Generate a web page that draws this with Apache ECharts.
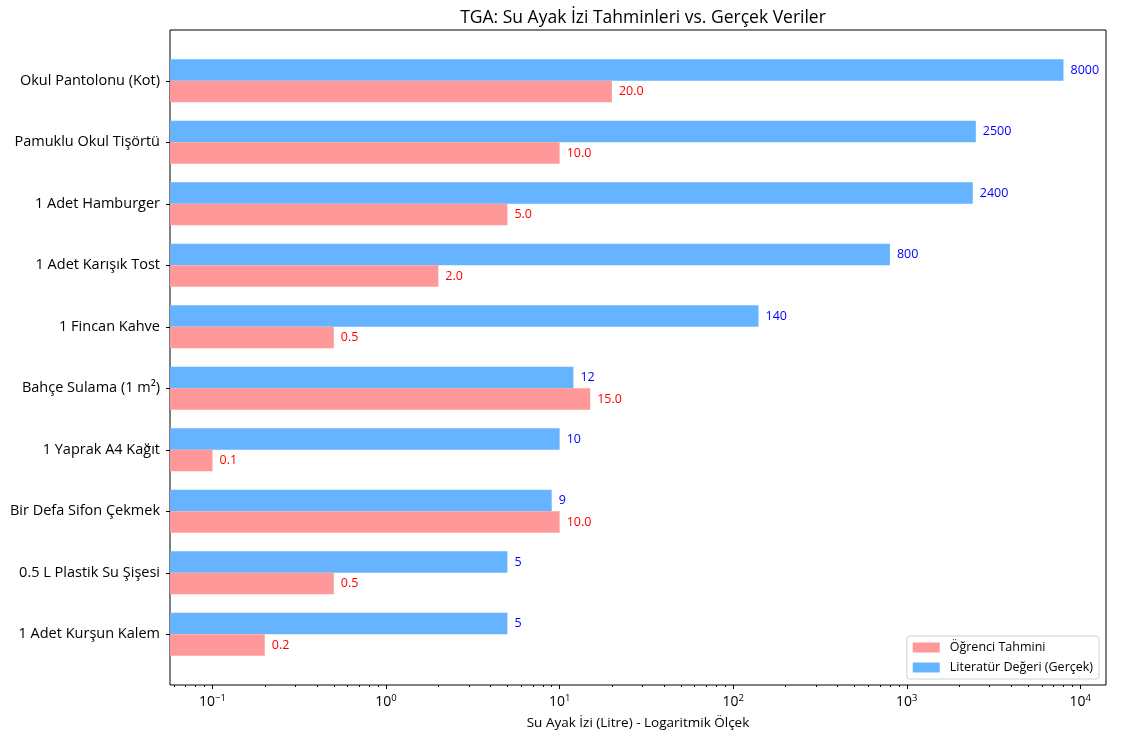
<!DOCTYPE html>
<html>
<head>
<meta charset="utf-8">
<script src="https://cdn.jsdelivr.net/npm/echarts@6/dist/echarts.min.js"></script>
<style>html,body{margin:0;padding:0;background:#fff;}#c{width:1125px;height:738px;}</style>
</head>
<body>
<div id="c"></div>
<script>
// Top-to-bottom as shown in the chart
const categories = ['Okul Pantolonu (Kot)', 'Pamuklu Okul Tişörtü', '1 Adet Hamburger', '1 Adet Karışık Tost', '1 Fincan Kahve', 'Bahçe Sulama (1 m²)', '1 Yaprak A4 Kağıt', 'Bir Defa Sifon Çekmek', '0.5 L Plastik Su Şişesi', '1 Adet Kurşun Kalem'];
const studentValues = [20.0, 10.0, 5.0, 2.0, 0.5, 15.0, 0.1, 10.0, 0.5, 0.2];
const literatureValues = [8000, 2500, 2400, 800, 140, 12, 10, 9, 5, 5];
const majorTicks = [0.1, 1, 10, 100, 1000, 10000];
const minorTicks = [0.06, 0.07, 0.08, 0.09, 0.2, 0.3, 0.4, 0.5, 0.6, 0.7, 0.8, 0.9, 2, 3, 4, 5, 6, 7, 8, 9, 20, 30, 40, 50, 60, 70, 80, 90, 200, 300, 400, 500, 600, 700, 800, 900, 2000, 3000, 4000, 5000, 6000, 7000, 8000, 9000];
const seriesNames = ['Öğrenci Tahmini', 'Literatür Değeri (Gerçek)'];

const FONT = 'Open Sans';
const xMin = Math.pow(10, -1.245);
const xMax = Math.pow(10, 4.148);
const L = 170, R = 19;

const chart = echarts.init(document.getElementById('c'));
chart.setOption({
  animation: false,
  textStyle: { fontFamily: FONT },
  title: {
    text: 'TGA: Su Ayak İzi Tahminleri vs. Gerçek Veriler',
    left: 638, top: 4, textAlign: 'center',
    textStyle: { fontFamily: FONT, fontSize: 17.5, fontWeight: 'normal', color: '#000' }
  },
  legend: {
    orient: 'vertical',
    right: 26, bottom: 59,
    data: seriesNames,
    icon: 'rect',
    itemWidth: 27, itemHeight: 10,
    itemGap: 7,
    padding: [5, 6, 5, 6],
    backgroundColor: '#fff',
    borderColor: '#d0d0d0',
    borderWidth: 1,
    borderRadius: 3,
    textStyle: { fontFamily: FONT, fontSize: 12.5, color: '#000', padding: [0, 0, 0, 5] }
  },
  grid: [
    { left: L, right: R, top: 50, bottom: 73, containLabel: false },
    { left: L, right: R, top: 30, bottom: 53, show: true, borderColor: '#000', borderWidth: 1, backgroundColor: 'transparent', z: 0 }
  ],
  xAxis: [
    { type: 'log', gridIndex: 0, min: xMin, max: xMax, startValue: xMin, show: false },
    {
      type: 'log', gridIndex: 1, min: xMin, max: xMax,
      axisLine: { show: false },
      splitLine: { show: false },
      axisTick: { show: true, customValues: majorTicks, length: 4, lineStyle: { color: '#000' } },
      axisLabel: {
        customValues: majorTicks, margin: 8,
        formatter: function (v) {
          const e = Math.round(Math.log10(v));
          return '{b|10}{s|' + (e < 0 ? '−' + (-e) : e) + '}';
        },
        rich: {
          b: { fontFamily: FONT, fontSize: 14, color: '#000' },
          s: { fontFamily: FONT, fontSize: 9.5, color: '#000', verticalAlign: 'top', padding: [0, 0, 8, 0] }
        }
      },
      name: 'Su Ayak İzi (Litre) - Logaritmik Ölçek',
      nameLocation: 'middle', nameGap: 31,
      nameTextStyle: { fontFamily: FONT, fontSize: 13.5, color: '#000' }
    },
    {
      type: 'log', gridIndex: 1, min: xMin, max: xMax, position: 'bottom',
      axisLine: { show: false }, splitLine: { show: false },
      axisTick: { show: true, customValues: minorTicks, length: 2, lineStyle: { color: '#000' } },
      axisLabel: { show: false }
    }
  ],
  yAxis: [
    {
      type: 'category', gridIndex: 0, data: categories, inverse: true,
      axisLine: { show: false },
      axisTick: { show: true, alignWithLabel: true, length: 4, lineStyle: { color: '#000' } },
      axisLabel: { fontFamily: FONT, fontSize: 14.5, color: '#000', margin: 10 }
    },
    { type: 'value', gridIndex: 1, show: false }
  ],
  series: [
    {
      name: seriesNames[1], type: 'bar', xAxisIndex: 0, yAxisIndex: 0,
      data: literatureValues, barWidth: '35%', barGap: '0%',
      itemStyle: { color: '#66b3ff' },
      label: { show: true, position: 'right', distance: 7, fontFamily: FONT, fontSize: 12.5, color: '#0000ff',
        formatter: p => String(Math.round(p.value)) }
    },
    {
      name: seriesNames[0], type: 'bar', xAxisIndex: 0, yAxisIndex: 0,
      data: studentValues, barWidth: '35%', barGap: '0%',
      itemStyle: { color: '#ff9999' },
      label: { show: true, position: 'right', distance: 7, fontFamily: FONT, fontSize: 12.5, color: '#ff0000',
        formatter: p => p.value.toFixed(1) }
    }
  ]
});
</script>
</body>
</html>
